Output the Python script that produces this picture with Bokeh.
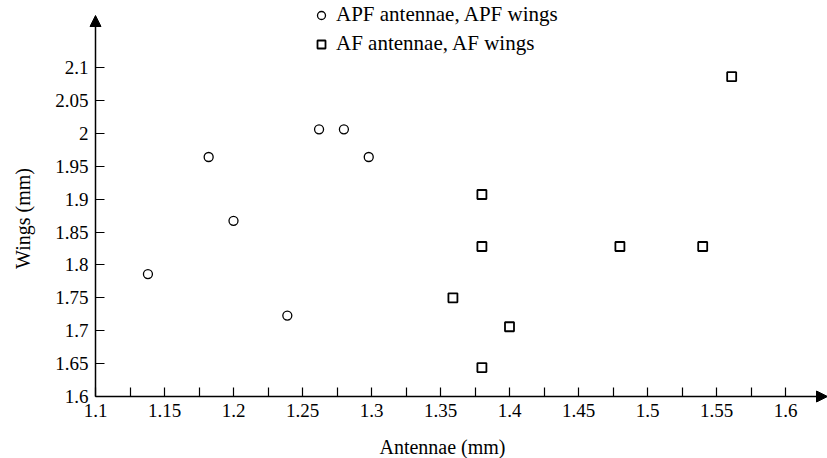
import math
from bokeh.plotting import figure
from bokeh.models import (FixedTicker, Arrow, NormalHead, Legend, LegendItem, Label, Range1d)
from bokeh.embed import file_html
from bokeh.resources import INLINE

# ---- data ----
apf_antennae = [1.138, 1.182, 1.200, 1.239, 1.262, 1.280, 1.298]
apf_wings = [1.786, 1.964, 1.867, 1.723, 2.006, 2.006, 1.964]
af_antennae = [1.380, 1.400, 1.359, 1.380, 1.480, 1.540, 1.380, 1.561]
af_wings = [1.644, 1.706, 1.750, 1.828, 1.828, 1.828, 1.907, 2.086]

x_ticks = [1.1, 1.15, 1.2, 1.25, 1.3, 1.35, 1.4, 1.45, 1.5, 1.55, 1.6]
x_tick_labels = ["1.1", "1.15", "1.2", "1.25", "1.3", "1.35", "1.4", "1.45", "1.5", "1.55", "1.6"]
x_minor = [1.125, 1.175, 1.225, 1.275, 1.325, 1.375, 1.425, 1.475, 1.525, 1.575]
y_ticks = [1.6, 1.65, 1.7, 1.75, 1.8, 1.85, 1.9, 1.95, 2.0, 2.05, 2.1]
y_tick_labels = ["1.6", "1.65", "1.7", "1.75", "1.8", "1.85", "1.9", "1.95", "2", "2.05", "2.1"]

legend_labels = ["APF antennae, APF wings", "AF antennae, AF wings"]
x_title = "Antennae (mm)"
y_title = "Wings (mm)"

FONT = "Liberation Serif"

# ---- layout (pixels) ----
W, H = 827, 458
ORIGIN_PX = (95, 396)          # where (1.1, 1.6) sits on the page
PX_X, PX_Y = 1380.0, 658.0     # pixels per data unit
Y_ARROW_TOP = 15               # y pixel of the wing-axis arrow tip
x0, y0 = x_ticks[0], y_ticks[0]
xs = x0 - ORIGIN_PX[0] / PX_X
xe = xs + W / PX_X
ys = y0 - (H - ORIGIN_PX[1]) / PX_Y
ye = ys + H / PX_Y
y_arrow = y0 + (ORIGIN_PX[1] - Y_ARROW_TOP) / PX_Y

p = figure(width=W, height=H, output_backend="svg", toolbar_location=None,
           x_range=Range1d(xs, xe), y_range=Range1d(ys, ye),
           min_border_left=0, min_border_right=0, min_border_top=0, min_border_bottom=0)
p.outline_line_color = None
p.grid.visible = False
p.background_fill_color = "white"
p.border_fill_color = "white"

# axes through the origin (1.1, 1.6)
xa = p.xaxis[0]
xa.fixed_location = y0
xa.ticker = FixedTicker(ticks=x_ticks, minor_ticks=x_minor)
xa.major_label_overrides = dict(zip(x_ticks, x_tick_labels))
ya = p.yaxis[0]
ya.fixed_location = x0
ya.ticker = FixedTicker(ticks=y_ticks, minor_ticks=[])
ya.major_label_overrides = dict(zip(y_ticks, y_tick_labels))
for ax in (xa, ya):
    ax.axis_line_color = None
    ax.major_tick_in = 9
    ax.major_tick_out = 0
    ax.minor_tick_in = 9
    ax.minor_tick_out = 0
    ax.major_tick_line_color = "black"
    ax.minor_tick_line_color = "black"
    ax.major_tick_line_width = 1.2
    ax.minor_tick_line_width = 1.2
    ax.major_label_text_font = FONT
    ax.major_label_text_font_style = "normal"
    ax.major_label_text_font_size = "19px"
    ax.major_label_text_color = "black"
xa.major_label_standoff = 7
ya.major_label_standoff = 7
ya.minor_tick_line_color = None

# axis lines with arrow heads
p.add_layout(Arrow(end=NormalHead(size=11, fill_color="black", line_color="black"),
                   x_start=x0, y_start=y0, x_end=xe, y_end=y0,
                   line_color="black", line_width=1.5))
p.add_layout(Arrow(end=NormalHead(size=11, fill_color="black", line_color="black"),
                   x_start=x0, y_start=y0, x_end=x0, y_end=y_arrow,
                   line_color="black", line_width=1.5))

r1 = p.scatter(apf_antennae, apf_wings, marker="circle", size=9,
               fill_color="white", line_color="black", line_width=1.3)
r2 = p.scatter(af_antennae, af_wings, marker="square", size=9,
               fill_color="white", line_color="black", line_width=1.8)

legend = Legend(items=[LegendItem(label=legend_labels[0], renderers=[r1]),
                       LegendItem(label=legend_labels[1], renderers=[r2])],
                location=(311, H - 56), orientation="vertical")
legend.label_text_font = FONT
legend.label_text_font_size = "21px"
legend.label_text_color = "black"
legend.glyph_width = 20
legend.glyph_height = 20
legend.label_height = 22
legend.label_standoff = 5
legend.spacing = 4
legend.padding = 0
legend.margin = 0
legend.border_line_color = None
legend.background_fill_alpha = 0
p.add_layout(legend)

p.add_layout(Label(x=442, y=H - 446, x_units="screen", y_units="screen", text=x_title,
                   text_font=FONT, text_font_size="20px", text_align="center",
                   text_baseline="middle", text_color="black"))
p.add_layout(Label(x=22, y=H - 218, x_units="screen", y_units="screen", text=y_title,
                   angle=math.pi / 2, text_font=FONT, text_font_size="20px",
                   text_align="center", text_baseline="middle", text_color="black"))

open("out.html", "w").write(file_html(p, INLINE))
